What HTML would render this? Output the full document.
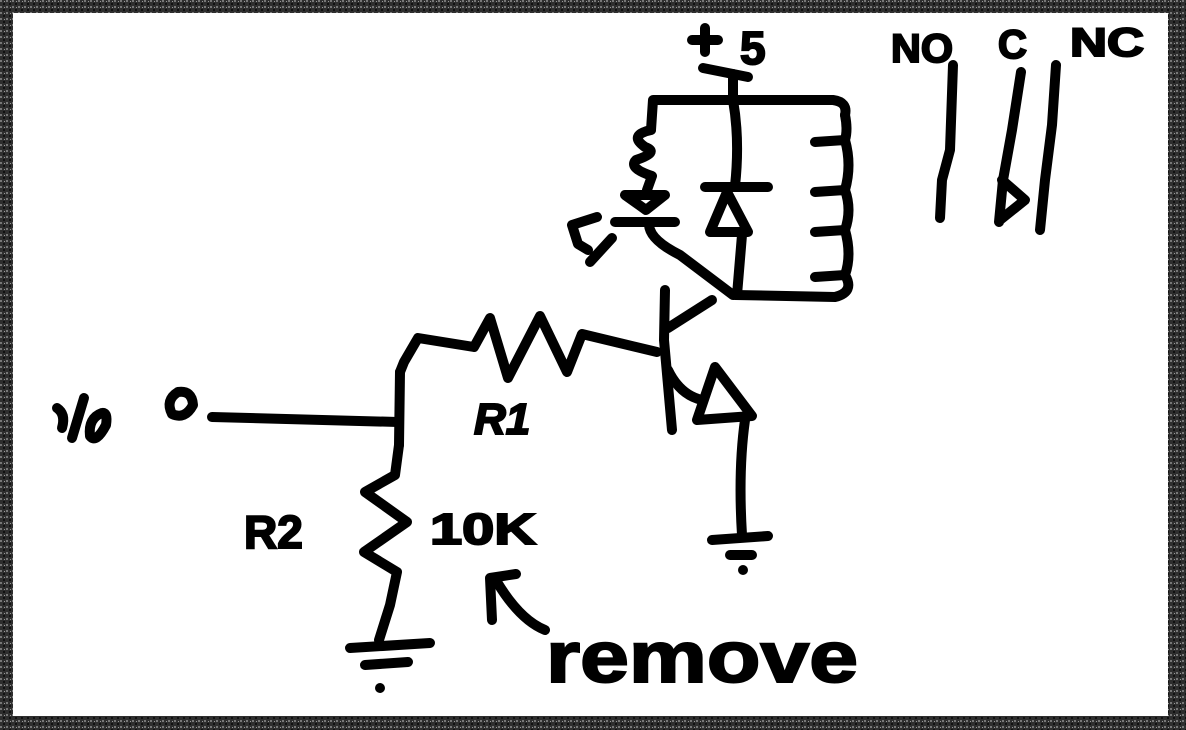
<!DOCTYPE html>
<html><head><meta charset="utf-8"><style>
html,body{margin:0;padding:0;width:1186px;height:730px;overflow:hidden;background:#3a3a3a;}
svg{display:block}
text{font-family:"Liberation Sans",sans-serif;font-weight:bold;fill:#000;stroke:#000;stroke-width:2px;}
</style></head><body>
<svg width="1186" height="730" viewBox="0 0 1186 730" xmlns="http://www.w3.org/2000/svg">
<defs>
<pattern id="g" width="6" height="6" patternUnits="userSpaceOnUse">
<rect width="6" height="6" fill="#2e2e2e"/><rect x="0" y="0" width="2" height="2" fill="#777"/><rect x="3" y="3" width="2" height="2" fill="#111"/><rect x="4" y="1" width="1" height="1" fill="#999"/>
</pattern>
</defs>
<rect width="1186" height="730" fill="url(#g)"/>
<rect x="13" y="13" width="1155" height="703" fill="#fff"/>
<g fill="none" stroke="#000" stroke-width="10" stroke-linecap="round" stroke-linejoin="round">
<path d="M703 68 L748 77"/>
<path d="M733 74 L733 100"/>
<path d="M651 130 L653 100 L833 100 Q848 102 845 115"/>
<path d="M651 130 Q628 135 645 147 Q660 152 636 160 Q628 168 652 176 L647 190"/>
<path d="M625 195 L665 195 L646 210 Z"/>
<path d="M615 222 L675 222"/>
<path d="M649 225 Q650 240 680 255 L733 295"/>
<path d="M597 217 L572 225 L578 244 L588 250 M612 238 L590 262"/>
<path d="M733 100 Q740 140 735 186"/>
<path d="M705 187 L768 187"/>
<path d="M727 192 L710 232 L748 232 Z"/>
<path d="M742 235 L737 295"/>
<path d="M845 115 Q848 130 845 140 L815 142 M845 140 Q852 165 845 190 L815 192 M845 190 Q852 210 845 230 L815 232 M845 230 Q852 255 845 275 L815 277 M845 275 Q855 292 835 297 L735 295"/>
<path d="M665 290 L664 340 L672 430"/>
<path d="M668 328 L712 300"/>
<path d="M668 370 Q680 395 702 400"/>
<path d="M715 367 L697 420 L752 416 Z"/>
<path d="M745 420 Q738 470 742 535"/>
<path d="M712 540 L768 536 M730 555 L752 555"/>
<path d="M400 372 L404 362 L418 338 L474 347 L490 318 L508 378 L540 316 L567 372 L582 334 L657 352"/>
<path d="M212 417 L398 422"/>
<path d="M400 372 L399 445"/>
<path d="M399 445 L395 475 L365 492 L407 522 L364 552 L397 572 L390 605 L379 640"/>
<path d="M350 648 L430 643 M365 665 L408 662"/>
<path d="M545 630 Q520 620 497 582"/>
<path d="M492 620 L490 578 L516 574"/>
<path d="M953 65 L950 150 L942 180 L940 218"/>
<path d="M1021 72 L1012 130 L1003 180 L999 222"/>
<path d="M1002 180 L1025 200 L1000 220"/>
<path d="M1056 65 L1052 125 L1045 180 L1040 230"/>
<path d="M57 408 Q66 414 62 428 M84 398 L72 438 M102 413 Q88 418 90 436 Q96 444 106 425 Q108 412 102 413"/>
<path d="M178 392 Q165 400 172 414 Q185 420 193 405 Q192 390 178 392"/>
<path d="M692 40 L718 40 M705 28 L705 52"/>
</g>
<circle cx="743" cy="570" r="5" fill="#000"/>
<circle cx="380" cy="688" r="5" fill="#000"/>
<text x="740" y="64" font-size="46">5</text>
<text x="891" y="62" font-size="40" textLength="62" lengthAdjust="spacingAndGlyphs">NO</text>
<text x="998" y="58" font-size="40">C</text>
<text x="1070" y="56" font-size="40" textLength="74" lengthAdjust="spacingAndGlyphs">NC</text>
<text x="474" y="434" font-size="44" font-style="italic">R1</text>
<text x="244" y="548" font-size="46">R2</text>
<text x="430" y="544" font-size="44" textLength="106" lengthAdjust="spacingAndGlyphs">10K</text>
<text x="546" y="682" font-size="72" textLength="312" lengthAdjust="spacingAndGlyphs" style="stroke-width:2px">remove</text>
</svg>
</body></html>
